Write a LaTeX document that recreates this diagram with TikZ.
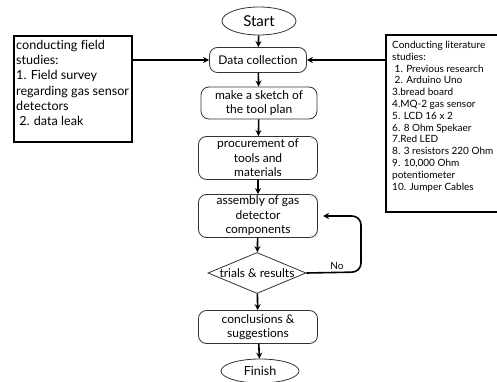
\documentclass[tikz,border=0pt]{standalone}
\usepackage{fontspec}
\setmainfont[Ligatures=NoCommon]{Lato}
\usetikzlibrary{shapes.geometric,arrows.meta}
\begin{document}
\begin{tikzpicture}[x=1pt,y=-1pt,
  flow/.style={draw=black!80,line width=0.8pt,rounded corners=8pt,align=center,inner sep=1pt,font=\fontsize{12}{14.5}\selectfont},
  term/.style={draw=black!80,line width=0.8pt,ellipse,inner sep=0pt,font=\fontsize{12.5}{15}\selectfont},
  sidebox/.style={draw=black,line width=1.8pt},
  arr/.style={line width=1.6pt,-{Stealth[length=6pt,width=6pt]}},
  lbl/.style={align=left,anchor=north west,inner sep=0pt}
]
\clip (0,0) rectangle (497,382);
\useasboundingbox (0,0) rectangle (497,382);
\node[term,minimum width=74pt,minimum height=28pt] (start) at (259,21) {\fontsize{15}{18}\selectfont Start};
\node[flow,minimum width=97pt,minimum height=25pt] (dc) at (258,60) {Data collection};
\node[flow,minimum width=116pt,minimum height=32pt] (sketch) at (259,103) {make a sketch of\\the tool plan};
\node[flow,minimum width=119pt,minimum height=43pt] (proc) at (258,158) {procurement of\\tools and\\materials};
\node[flow,minimum width=119pt,minimum height=43pt] (asm) at (258,216) {assembly of gas\\detector\\components};
\node[draw=black!80,line width=0.8pt,diamond,aspect=2.4,inner sep=0pt,minimum width=98pt,minimum height=41pt,font=\fontsize{12}{14}\selectfont] (trial) at (257,273) {trials \& results};
\node[flow,minimum width=119pt,minimum height=33pt] (concl) at (258,327) {conclusions \&\\suggestions};
\node[term,minimum width=78pt,minimum height=24pt] (finish) at (260,371) {Finish};

\node[sidebox,minimum width=118pt,minimum height=106pt,inner sep=0pt] (lbox) at (73,89) {};
\node[lbl,font=\fontsize{12.6}{15.2}\selectfont] (ltext) at (16,40) {conducting field\\studies:\\1. Field survey\\regarding gas sensor\\detectors\\\hspace{0.25em}2. data leak};

\node[sidebox,minimum width=116pt,minimum height=177pt,inner sep=0pt] (rbox) at (444,123.5) {};
\node[lbl,font=\fontsize{10}{11.8}\selectfont] (rtext) at (392,41) {Conducting literature\\studies:\\\hspace{0.25em}1. Previous research\\\hspace{0.25em}2. Arduino Uno\\3.bread board\\4.MQ-2 gas sensor\\5. LCD 16 x 2\\6. 8 Ohm Spekaer\\7.Red LED\\8. 3 resistors 220 Ohm\\9. 10,000 Ohm\\potentiometer\\10. Jumper Cables};

\draw[arr] (start) -- (dc);
\draw[arr] (dc) -- (sketch);
\draw[arr] (sketch) -- (proc);
\draw[arr] (proc) -- (asm);
\draw[arr] (asm) -- (trial);
\draw[arr] (trial) -- (concl);
\draw[arr] (concl) -- (finish);
\draw[arr] (lbox.east |- dc.west) -- (dc.west);
\draw[arr] (rbox.west |- dc.east) -- (dc.east);
\coordinate (loopend) at (323,216);
\draw[arr,rounded corners=9pt] (trial.east) -- (361,272) -- (361,216) -- (loopend);
\node[font=\fontsize{10}{12}\selectfont] (no) at (337,266) {No};
\end{tikzpicture}
\end{document}
